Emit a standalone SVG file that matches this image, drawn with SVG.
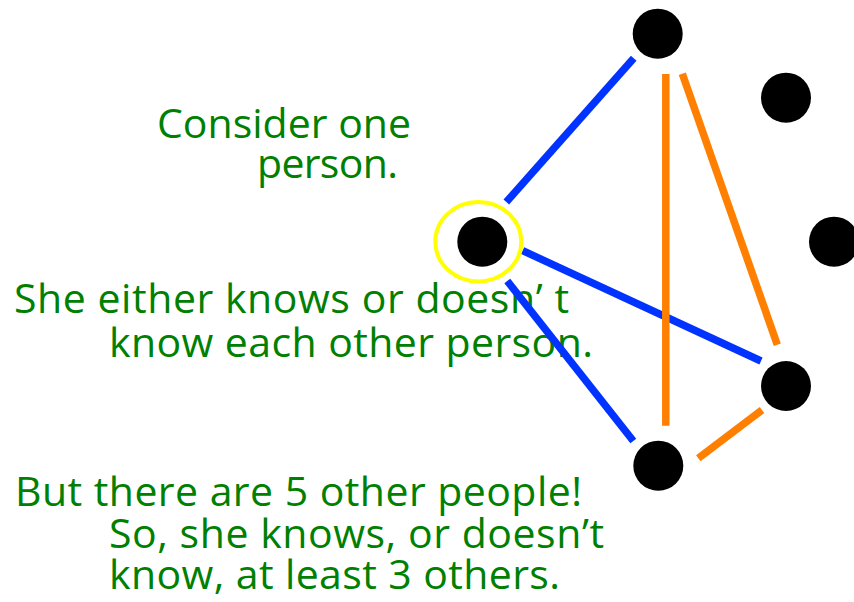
<svg xmlns="http://www.w3.org/2000/svg" width="854" height="602" viewBox="0 0 854 602">
<style>
.t{font-family:"Open Sans","Noto Sans","Liberation Sans",sans-serif;font-size:41px;fill:#008000}
.blue{stroke:#0033FF;stroke-width:7.5;stroke-linecap:butt;fill:none}
.orange{stroke:#FF7F00;stroke-width:7.5;stroke-linecap:butt;fill:none}
.node{fill:#000}
.hl{fill:none;stroke:#FFFF00;stroke-width:4}
</style>
<rect width="854" height="602" fill="#fff"/>
<g id="texts">
<text class="t" x="157" y="137.7" textLength="254" lengthAdjust="spacing">Consider one</text>
<text class="t" x="257" y="178" textLength="141" lengthAdjust="spacing">person.</text>
<text class="t" x="14" y="313.3" textLength="555" lengthAdjust="spacing">She either knows or doesn’ t</text>
<text class="t" x="109" y="356.7" textLength="484" lengthAdjust="spacing">know each other person.</text>
<text class="t" x="15" y="505.7" textLength="567" lengthAdjust="spacing">But there are 5 other people!</text>
<text class="t" x="109" y="548.3" textLength="495" lengthAdjust="spacing">So, she knows, or doesn’t</text>
<text class="t" x="109" y="589" textLength="451" lengthAdjust="spacing">know, at least 3 others.</text>
</g>
<g id="connectors">
<line class="blue" x1="506.3" y1="202" x2="633.7" y2="58.3"/>
<line class="blue" x1="522.7" y1="250.7" x2="761" y2="361"/>
<line class="blue" x1="507.3" y1="281" x2="633.3" y2="441"/>
<line class="orange" x1="665.8" y1="74" x2="665.8" y2="425.7"/>
<line class="orange" x1="682.3" y1="73.7" x2="777.3" y2="344.7"/>
<line class="orange" x1="698.3" y1="458.3" x2="762" y2="410"/>
</g>
<g id="node-center">
<ellipse class="hl" cx="478.3" cy="241.7" rx="43" ry="39.7"/>
<circle class="node" cx="482.3" cy="241.7" r="25"/>
</g>
<g id="node-top"><circle class="node" cx="657.7" cy="33.7" r="25"/></g>
<g id="node-right-top"><circle class="node" cx="786" cy="97.7" r="25"/></g>
<g id="node-right-middle"><circle class="node" cx="834" cy="241.7" r="25"/></g>
<g id="node-right-lower"><circle class="node" cx="786" cy="386" r="25"/></g>
<g id="node-bottom"><circle class="node" cx="658.3" cy="465.7" r="25"/></g>
</svg>
